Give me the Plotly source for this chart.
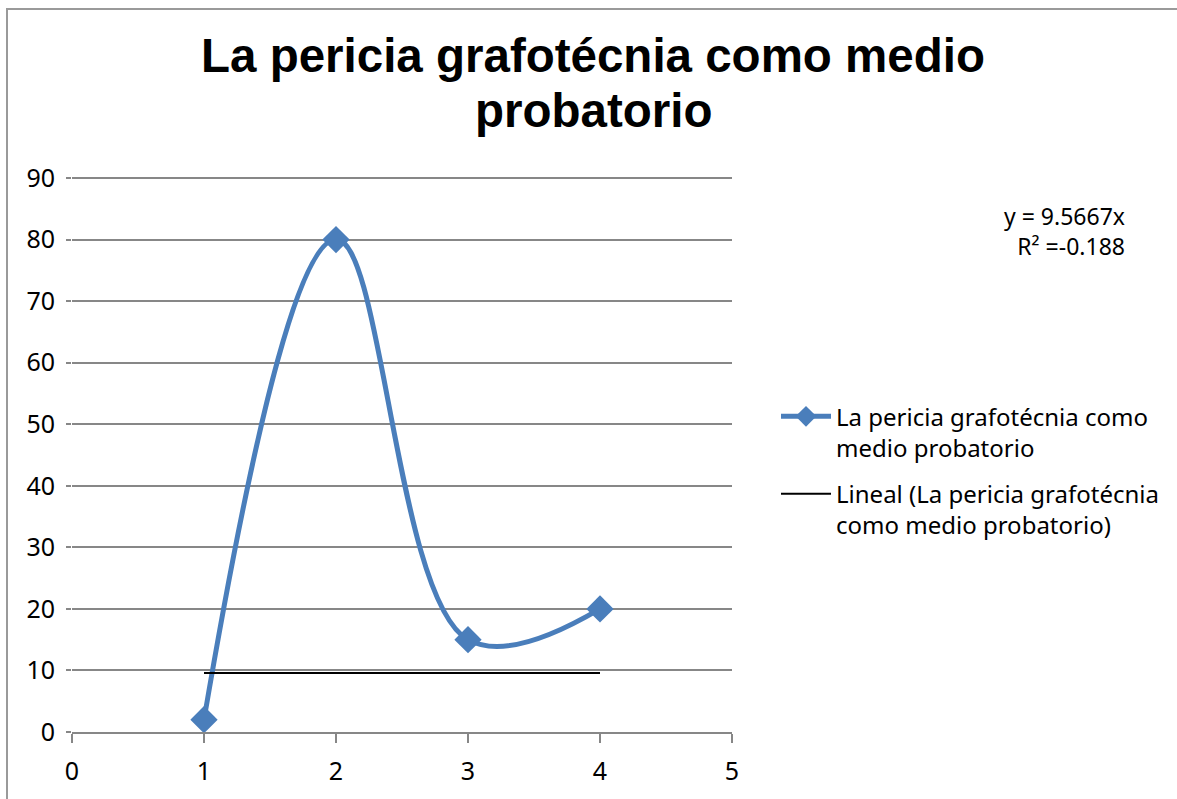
import plotly.graph_objects as go

# Observed values
x_vals = [1, 2, 3, 4]
y_vals = [2, 80, 15, 20]

# Linear trend line as reported on the chart
trend_x = [1, 4]
trend_level = 9.5667
trend_r2 = -0.188

series_name = "La pericia grafotécnia como<br>medio probatorio"
trend_name = "Lineal (La pericia grafotécnia<br>como medio probatorio)"
title_lines = ["La pericia grafotécnia como medio", "probatorio"]

x_ticks = [0, 1, 2, 3, 4, 5]
y_ticks = [0, 10, 20, 30, 40, 50, 60, 70, 80, 90]

BLUE = "#4A7EBB"
GRID = "#878787"
TICK_FONT = dict(family="Noto Sans, DejaVu Sans, sans-serif", size=25, color="#000000")
TEXT_FONT = dict(family="Noto Sans, DejaVu Sans, sans-serif", size=24, color="#000000")
TITLE_FONT = dict(family="Liberation Sans, Arial, sans-serif", size=47.5,
                  color="#000000", weight="bold")

fig = go.Figure()

fig.add_trace(go.Scatter(
    x=x_vals, y=y_vals, name=series_name, legendgroup="serie",
    mode="lines+markers",
    line=dict(color=BLUE, width=5, shape="spline", smoothing=1.1),
    marker=dict(symbol="diamond", size=21, color=BLUE),
))

fig.add_trace(go.Scatter(
    x=trend_x, y=[trend_level] * len(trend_x), name=trend_name, legendgroup="tendencia",
    mode="lines",
    line=dict(color="#000000", width=2),
))

W, H = 1177, 799
L, R, T, B = 72, 445, 175, 60
pw, ph = W - L - R, H - T - B


def px_x(p):
    return (p - L) / pw


def px_y(p):
    return (H - B - p) / ph


annotations = [dict(
    xref="paper", yref="paper", x=px_x(1127), y=px_y(198),
    xanchor="right", yanchor="top", align="right", showarrow=False,
    text=f"y = {trend_level}x<br>R² ={trend_r2}",
    font=dict(TEXT_FONT, size=23),
)]
for text, cy in zip(title_lines, [54, 110]):
    annotations.append(dict(
        xref="paper", yref="paper", x=px_x(593), y=px_y(cy),
        xanchor="center", yanchor="middle", showarrow=False,
        text=text, font=TITLE_FONT,
    ))

fig.update_layout(
    width=W, height=H,
    margin=dict(l=L, r=R, t=T, b=B, pad=0),
    paper_bgcolor="#FFFFFF", plot_bgcolor="#FFFFFF",
    xaxis=dict(
        range=[0, 5], tickvals=x_ticks, showgrid=False, zeroline=False,
        showline=True, linecolor=GRID, linewidth=2,
        ticks="outside", ticklen=9, tickwidth=2, tickcolor=GRID,
        tickfont=TICK_FONT, ticklabelstandoff=7,
    ),
    yaxis=dict(
        range=[0, 90.5], tickvals=y_ticks, showgrid=True, gridcolor=GRID, gridwidth=2,
        zeroline=False, showline=False,
        ticks="outside", ticklen=5, tickwidth=2, tickcolor=GRID,
        tickfont=TICK_FONT, ticklabelstandoff=6,
    ),
    legend=dict(
        x=px_x(776), y=px_y(397), xanchor="left", yanchor="top",
        font=TEXT_FONT, valign="top",
        bgcolor="rgba(0,0,0,0)", itemwidth=50, tracegroupgap=12,
    ),
    showlegend=True,
    annotations=annotations,
    shapes=[dict(
        type="rect", xref="paper", yref="paper",
        x0=px_x(7), x1=px_x(1200), y0=px_y(830), y1=px_y(7),
        line=dict(color="#9A9A9A", width=2), fillcolor="rgba(0,0,0,0)", layer="below",
    )],
)

fig.write_html("out.html")
